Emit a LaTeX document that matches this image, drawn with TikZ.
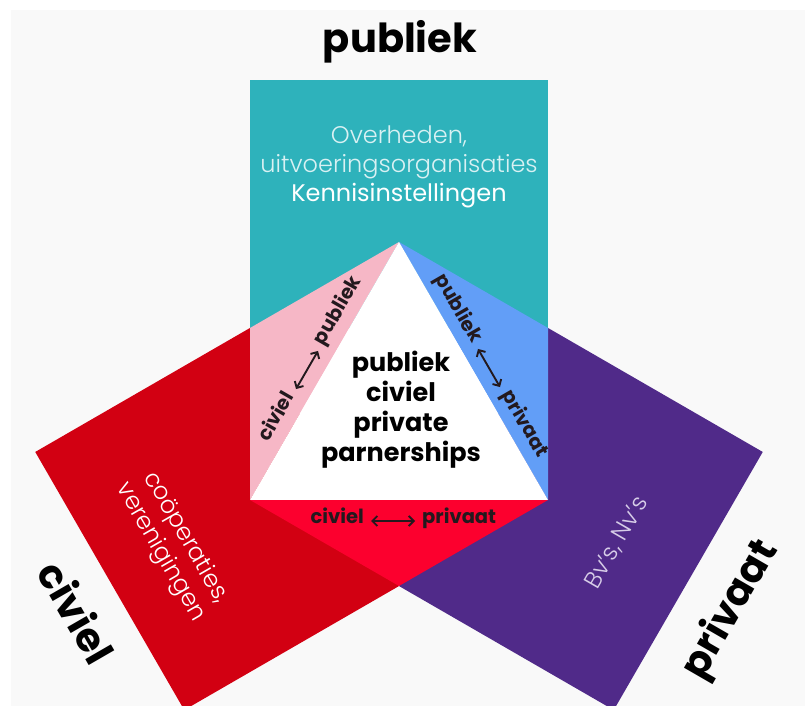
\documentclass[tikz,border=0pt]{standalone}
\usepackage{fontspec}
\usepackage{tikz}
\usetikzlibrary{positioning,arrows.meta}
\setmainfont{Poppins}
\newfontfamily\lightfont{Poppins Light}
\definecolor{bggray}{RGB}{249,249,249}
\definecolor{publiekteal}{RGB}{46,178,187}
\definecolor{civielred}{RGB}{210,0,18}
\definecolor{privaatpurple}{RGB}{80,42,137}
\definecolor{civpubpink}{RGB}{246,183,198}
\definecolor{pubprivblue}{RGB}{98,158,247}
\definecolor{civprivred}{RGB}{252,0,46}
\definecolor{labelink}{RGB}{35,25,30}
\definecolor{lavenderink}{RGB}{215,205,232}

\tikzset{
  pairlabel/.style={font=\bfseries\fontsize{19.5}{20}\selectfont, text=labelink,
    inner xsep=7pt, inner ysep=0pt, text height=0.55em, text depth=0pt, transform shape},
  pairarrow/.style={{Straight Barb[length=5pt,width=10pt]}-{Straight Barb[length=5pt,width=10pt]},
    draw=labelink, line width=1.9pt},
  sidelabel/.style={font=\bfseries\fontsize{40}{42}\selectfont},
  grouplabel/.style={font=\lightfont\fontsize{24}{29}\selectfont, align=center}
}

\begin{document}
\begin{tikzpicture}[x=1pt,y=1pt]
\useasboundingbox (0,0) rectangle (811,706);
\fill[bggray] (11,0) rectangle (805,696);

% hexagon corners
\coordinate (hc) at (399,292);
\coordinate (h90) at (399,464);
\coordinate (h30) at (548,378);
\coordinate (hm30) at (548,206);
\coordinate (hm90) at (399,120);
\coordinate (hm150) at (250,206);
\coordinate (h150) at (250,378);

% sector boxes
\fill[publiekteal] (250,378) rectangle (548,626);
\fill[civielred, rotate around={120:(hc)}] (250,378) rectangle (548,626);
\fill[privaatpurple, rotate around={240:(hc)}] (250,378) rectangle (548,626);

% triangles
\fill[civpubpink] (h90) -- (h150) -- (hm150) -- cycle;
\fill[pubprivblue] (h90) -- (h30) -- (hm30) -- cycle;
\fill[civprivred] (hm150) -- (hm90) -- (hm30) -- cycle;
\fill[white] (h90) -- (hm150) -- (hm30) -- cycle;

% outer titles
\node[sidelabel] (publiektitle) at (400,664) {publiek};
\node[sidelabel, rotate=-60] (civieltitle) at (77,94) {civiel};
\node[sidelabel, rotate=60] (privaattitle) at (731,96) {privaat};

% groups
\node[grouplabel, text=white] (publiekgroup) at (399,539)
  {{\color{white!82!publiekteal}Overheden,}\\{\color{white!82!publiekteal}uitvoeringsorganisaties}\\{\rmfamily Kennisinstellingen}};
\node[grouplabel, text=white, rotate=-60] (civielgroup) at (173,161) {coöperaties,\\verenigingen};
\node[grouplabel, text=lavenderink, rotate=60] (privaatgroup) at (617,163) {Bv’s, Nv’s};

% centre
\node[font=\bfseries\fontsize{25.5}{30}\selectfont, align=center] (ppp) at (401,296)
  {publiek\\civiel\\private\\parnerships};

% pairs
\begin{scope}[rotate around={60:(307,336)}]
\coordinate (cubmid) at (307,336);
\node[pairlabel, left=22pt of cubmid] (cubciviel) {civiel};
\node[pairlabel, right=22pt of cubmid] (cubpubliek) {publiek};
\draw[pairarrow] (cubciviel) -- (cubpubliek);
\end{scope}

\begin{scope}[rotate around={-60:(489,338)}]
\coordinate (pubmid) at (489,338);
\node[pairlabel, left=22pt of pubmid] (pubpubliek) {publiek};
\node[pairlabel, right=22pt of pubmid] (pubprivaat) {privaat};
\draw[pairarrow] (pubpubliek) -- (pubprivaat);
\end{scope}

\coordinate (cpmid) at (393,185);
\node[pairlabel, left=22pt of cpmid] (cpciviel) {civiel};
\node[pairlabel, right=22pt of cpmid] (cpprivaat) {privaat};
\draw[pairarrow] (cpciviel) -- (cpprivaat);
\end{tikzpicture}
\end{document}
